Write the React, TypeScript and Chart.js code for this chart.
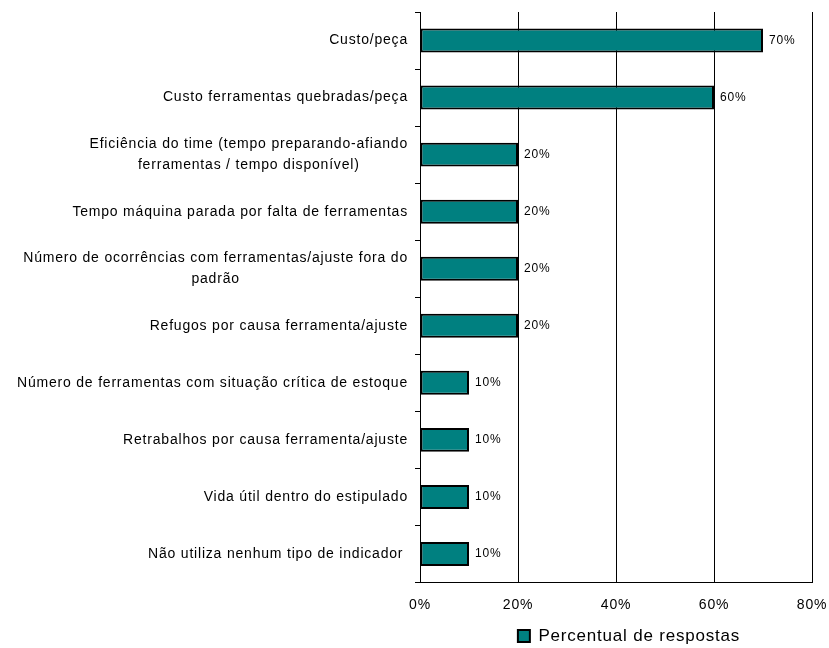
import React, { useEffect, useRef } from "react";
import { Chart, registerables } from "chart.js";

Chart.register(...registerables);

const categoryLines: string[][] = [
  ["Custo/peça"],
  ["Custo ferramentas quebradas/peça"],
  ["Eficiência do time (tempo preparando-afiando", "ferramentas / tempo disponível)"],
  ["Tempo máquina parada por falta de ferramentas"],
  ["Número de ocorrências com ferramentas/ajuste fora do", "padrão"],
  ["Refugos por causa ferramenta/ajuste"],
  ["Número de ferramentas com situação crítica de estoque"],
  ["Retrabalhos por causa ferramenta/ajuste"],
  ["Vida útil dentro do estipulado"],
  ["Não utiliza nenhum tipo de indicador "],
];
const percentValues: number[] = [70, 60, 20, 20, 20, 20, 10, 10, 10, 10];
const xTicks: number[] = [0, 20, 40, 60, 80];
const seriesName = "Percentual de respostas";

const FONT = "'Liberation Sans', Arial, Helvetica, sans-serif";
const SPACING = "0.8px";
const LEGEND_FONT = 17;
const LEGEND_PAD = 6;
const LEGEND_CENTER_X = 629;
const LEGEND_CENTER_Y = 636;

const spacingPlugin = {
  id: "spacing",
  beforeInit(chart: any) {
    chart.ctx.letterSpacing = SPACING;
  },
  beforeUpdate(chart: any) {
    chart.ctx.letterSpacing = SPACING;
  },
  beforeDraw(chart: any) {
    chart.ctx.letterSpacing = SPACING;
  },
};

const legendPlacePlugin = {
  id: "legendPlace",
  afterLayout(chart: any) {
    const lg = chart.legend;
    if (!lg) return;
    const dx = LEGEND_CENTER_X - (lg.left + lg.right) / 2;
    lg.left += dx;
    lg.right += dx;
    const top = LEGEND_CENTER_Y - LEGEND_PAD - LEGEND_FONT / 2;
    const dy = top - lg.top;
    lg.top += dy;
    lg.bottom += dy;
  },
};

const categoryLabelPlugin = {
  id: "categoryLabels",
  afterDraw(chart: any) {
    const ctx = chart.ctx;
    const y = chart.scales.y;
    const right = chart.chartArea.left - 12;
    ctx.save();
    ctx.letterSpacing = SPACING;
    ctx.font = `14px ${FONT}`;
    ctx.fillStyle = "#000";
    ctx.textBaseline = "middle";
    ctx.textAlign = "center";
    const lh = 21;
    categoryLines.forEach((lines, i) => {
      const cy = y.getPixelForValue(i);
      const w = Math.max(...lines.map((l) => ctx.measureText(l).width));
      const cx = right - w / 2;
      const start = cy - ((lines.length - 1) * lh) / 2;
      lines.forEach((l, j) => ctx.fillText(l, cx, start + j * lh));
    });
    ctx.restore();
  },
};

const valueLabelPlugin = {
  id: "valueLabels",
  afterDatasetsDraw(chart: any) {
    const ctx = chart.ctx;
    const meta = chart.getDatasetMeta(0);
    ctx.save();
    ctx.letterSpacing = SPACING;
    ctx.font = `12px ${FONT}`;
    ctx.fillStyle = "#000";
    ctx.textBaseline = "middle";
    ctx.textAlign = "left";
    meta.data.forEach((bar: any, i: number) => {
      ctx.fillText(`${percentValues[i]}%`, bar.x + 6, bar.y);
    });
    ctx.restore();
  },
};

export default function App() {
  const ref = useRef<HTMLCanvasElement>(null);
  useEffect(() => {
    if (!ref.current) return;
    Chart.defaults.font.family = FONT;
    Chart.defaults.color = "#000";
    const chart = new Chart(ref.current, {
      type: "bar",
      data: {
        labels: categoryLines,
        datasets: [
          {
            label: seriesName,
            data: percentValues,
            backgroundColor: "#008080",
            borderColor: "#000",
            borderWidth: 2,
            borderSkipped: false,
            barPercentage: 0.42,
            categoryPercentage: 1,
          },
        ],
      },
      options: {
        indexAxis: "y",
        animation: false,
        responsive: false,
        layout: { padding: { top: 12, right: 0, bottom: 0, left: 0 } },
        plugins: {
          legend: {
            position: "bottom",
            labels: {
              font: { size: LEGEND_FONT },
              color: "#000",
              boxWidth: 12,
              boxHeight: 12,
              padding: LEGEND_PAD,
            },
          },
          tooltip: { enabled: false },
        },
        scales: {
          x: {
            min: 0,
            max: 80,
            afterBuildTicks(scale: any) {
              scale.ticks = xTicks.map((v) => ({ value: v }));
            },
            afterFit(scale: any) {
              scale.height = 32.5;
              scale.paddingRight = 17;
              scale.paddingLeft = 0;
            },
            ticks: {
              font: { size: 14 },
              color: "#000",
              padding: 14,
              callback: (v: any) => `${v}%`,
            },
            grid: { color: "#000", lineWidth: 1, drawTicks: false },
            border: { display: true, color: "#000", width: 1 },
          },
          y: {
            afterFit(scale: any) {
              scale.width = 420;
            },
            ticks: { display: false },
            grid: {
              offset: true,
              drawOnChartArea: false,
              drawTicks: true,
              tickLength: 5,
              color: "#000",
            },
            border: { display: true, color: "#000", width: 1 },
          },
        },
      },
      plugins: [spacingPlugin, legendPlacePlugin, categoryLabelPlugin, valueLabelPlugin],
    });
    return () => chart.destroy();
  }, []);
  return (
    <div style={{ position: "fixed", left: 0, top: 0, width: 829, height: 648, background: "#fff" }}>
      <canvas ref={ref} width={829} height={648} style={{ display: "block" }} />
    </div>
  );
}
